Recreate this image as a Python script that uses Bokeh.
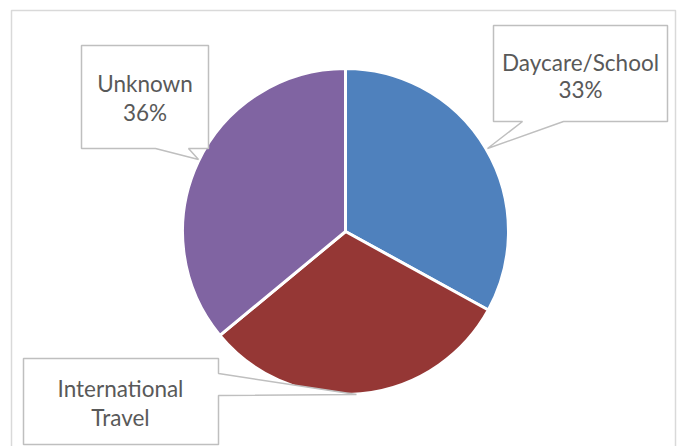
import numpy as np
from bokeh.plotting import figure
from bokeh.models import Range1d, ColumnDataSource
from bokeh.core.properties import value
from bokeh.embed import file_html
from bokeh.resources import INLINE

# ---- data ----
categories = ["Daycare/School", "International Travel", "Unknown"]
values = [33, 31, 36]
colors = ["#4F81BD", "#953735", "#8064A2"]
label_lines = [["Daycare/School", "33%"], ["International", "Travel"], ["Unknown", "36%"]]

W, H = 683, 446
IMG_H = 446  # coordinate helper: data units = screen pixels


def Y(y):
    return IMG_H - y


p = figure(width=W, height=H, output_backend="svg", toolbar_location=None,
           x_range=Range1d(0, W), y_range=Range1d(IMG_H - H, IMG_H),
           min_border=0, outline_line_color=None, background_fill_color="white",
           border_fill_color="white")
p.axis.visible = False
p.grid.visible = False

# outer chart border (bottom runs off the picture)
p.patch([11, 675, 675, 11], [Y(10), Y(10), Y(470), Y(470)], fill_color=None,
        line_color="#D9D9D9", line_width=1.5)

# ---- pie ----
cx, cy, r = 345, Y(231), 163
vals = np.array(values, dtype=float)
frac = vals / vals.sum()
cum = np.concatenate([[0], np.cumsum(frac)])
start = np.pi / 2 - 2 * np.pi * cum[1:]
end = np.pi / 2 - 2 * np.pi * cum[:-1]
src = ColumnDataSource(dict(cat=categories, start=start, end=end, color=colors,
                            x=[cx] * 3, y=[cy] * 3))
p.wedge(x="x", y="y", radius=r, start_angle="start", end_angle="end",
        fill_color="color", line_color="white", line_width=3, source=src)

# ---- callouts ----
callouts = [
    # Daycare/School
    dict(px=[493, 667, 667, 563, 487, 522, 493], py=[25, 25, 121, 121, 148, 121, 121],
         tx=580, ty=[62, 89]),
    # International Travel
    dict(px=[23, 218, 218, 356, 218, 218, 23], py=[358, 358, 373, 394, 395, 444, 444],
         tx=120, ty=[388, 417]),
    # Unknown
    dict(px=[81, 208, 208, 188, 198, 155, 81], py=[45, 45, 148, 148, 159, 148, 148],
         tx=144.5, ty=[83, 112]),
]
for c, lines in zip(callouts, label_lines):
    p.patch(c["px"], [Y(v) for v in c["py"]], fill_color="white",
            line_color="#BFBFBF", line_width=1.5)
    p.text(x=[c["tx"]] * len(lines), y=[Y(v) for v in c["ty"]], text=lines,
           text_font=value("Lato"), text_font_size="22.5px", text_color="#595959",
           text_align="center", text_baseline="middle")

open("out.html", "w").write(file_html(p, INLINE))
